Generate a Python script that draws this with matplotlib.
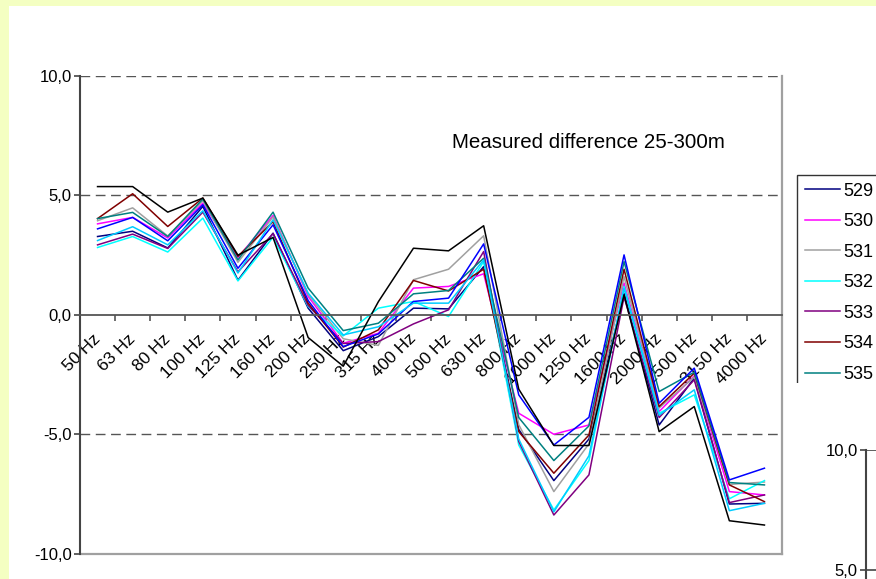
import matplotlib
matplotlib.use("Agg")
import matplotlib.pyplot as plt
import matplotlib.transforms as mtransforms
from matplotlib.patches import Rectangle

plt.rcParams['font.family'] = ['Liberation Sans', 'DejaVu Sans']

# third-octave bands
bands = ["50 Hz", "63 Hz", "80 Hz", "100 Hz", "125 Hz", "160 Hz", "200 Hz", "250 Hz",
         "315 Hz", "400 Hz", "500 Hz", "630 Hz", "800 Hz", "1000 Hz", "1250 Hz",
         "1600 Hz", "2000 Hz", "2500 Hz", "3150 Hz", "4000 Hz"]

s529 = [3.28, 3.50, 2.80, 4.54, 1.45, 3.42, 0.28, -1.50, -0.91, 0.28, 0.25, 2.02,
        -4.80, -6.94, -5.20, 0.90, -4.61, -2.65, -7.92, -7.89]
s530 = [3.81, 4.08, 3.22, 4.68, 2.40, 4.16, 0.77, -1.19, -0.77, 1.12, 1.19, 1.72,
        -4.12, -5.00, -4.61, 1.33, -4.05, -2.55, -7.40, -7.54]
s531 = [3.94, 4.48, 3.30, 4.78, 2.20, 4.10, 0.85, -1.00, -1.28, 1.47, 1.91, 3.31,
        -4.60, -7.40, -5.40, 1.60, -3.90, -2.60, -7.10, -7.00]
s532 = [2.82, 3.28, 2.63, 4.05, 1.42, 3.25, 0.35, -0.88, 0.28, 0.56, -0.07, 2.23,
        -5.45, -8.17, -6.10, 1.19, -4.12, -3.35, -7.70, -6.94]
s533 = [2.93, 3.38, 2.78, 4.30, 1.80, 3.40, 0.40, -1.20, -1.12, -0.38, 0.21, 2.65,
        -5.30, -8.38, -6.70, 0.75, -4.30, -2.72, -7.86, -7.54]
s534 = [4.03, 5.07, 3.70, 4.89, 2.45, 3.90, 0.49, -1.35, -0.63, 1.44, 1.00, 1.91,
        -4.89, -6.63, -5.03, 1.91, -3.84, -2.44, -7.12, -7.82]
s535 = [4.03, 4.29, 3.28, 4.85, 2.30, 4.30, 1.12, -0.66, -0.35, 0.88, 1.02, 2.37,
        -4.30, -6.10, -4.65, 2.23, -3.21, -2.40, -7.02, -7.12]
s536 = [3.60, 4.08, 3.10, 4.61, 1.95, 3.77, 0.60, -1.33, -0.80, 0.56, 0.70, 2.97,
        -3.35, -5.45, -4.29, 2.51, -3.70, -2.23, -6.91, -6.42]
s537 = [3.11, 3.69, 2.93, 4.36, 1.75, 3.98, 0.91, -0.84, -0.50, 0.49, 0.49, 2.30,
        -5.20, -8.25, -5.90, 1.10, -4.20, -3.14, -8.20, -7.89]
s538 = [5.37, 5.37, 4.30, 4.89, 2.50, 3.24, -0.95, -2.15, 0.55, 2.79, 2.68, 3.73,
        -3.11, -5.47, -5.47, 0.84, -4.89, -3.84, -8.62, -8.80]

names = ["529", "530", "531", "532", "533", "534", "535", "536", "537", "538"]
series = [s529, s530, s531, s532, s533, s534, s535, s536, s537, s538]
colors = ["#000080", "#FF00FF", "#A0A0A0", "#00FFFF", "#800080", "#800000",
          "#008080", "#0000FF", "#00CCFF", "#000000"]

yticks = [-10, -5, 0, 5, 10]
ytick_labels = ["-10,0", "-5,0", "0,0", "5,0", "10,0"]

W, H = 876, 579
fig = plt.figure(figsize=(W / 100, H / 100), dpi=100)
fig.patch.set_facecolor("#F4FFC2")
# white chart area
fig.add_artist(Rectangle((9 / W, 0), 1, 1 - 6 / H, transform=fig.transFigure,
                         facecolor="white", edgecolor="none", zorder=-1))


def px(x0, y0, x1, y1):
    return [x0 / W, 1 - y1 / H, (x1 - x0) / W, (y1 - y0) / H]


ax = fig.add_axes(px(80, 76, 782, 553.7))
x = list(range(len(bands)))
handles = []
for name, vals, c in zip(names, series, colors):
    ln, = ax.plot(x, vals, color=c, lw=1.1, label=name)
    handles.append(ln)

ax.set_xlim(-0.5, len(bands) - 0.5)
ax.set_ylim(-10, 10)

# axes look
ax.spines['top'].set_visible(False)
ax.spines['bottom'].set_position(('data', 0))
ax.spines['bottom'].set_color("#555555")
ax.spines['bottom'].set_linewidth(1.3)
ax.spines['left'].set_color("#444444")
ax.spines['left'].set_linewidth(1.5)
ax.spines['right'].set_color("#A0A0A0")
ax.spines['right'].set_linewidth(1.6)
ax.axhline(-10, color="#A0A0A0", lw=1.6, clip_on=False)
for g in [10, 5, -5]:
    ax.axhline(g, color="#555555", lw=1, dashes=(7, 4), zorder=0)

ax.set_yticks(yticks)
ax.set_yticklabels(ytick_labels, fontsize=12)
ax.tick_params(axis='y', direction='out', length=4, width=1.2, color="#444444", pad=2)

ax.set_xticks(x)
ax.set_xticklabels(bands, fontsize=12.5, rotation=45, ha='right', va='center',
                   rotation_mode='anchor')
shift = mtransforms.ScaledTranslation(-4 / 100, 0, fig.dpi_scale_trans)
for lab in ax.get_xticklabels():
    lab.set_transform(lab.get_transform() + shift)
ax.set_xticks([i - 0.5 for i in range(len(bands) + 1)], minor=True)
ax.tick_params(axis='x', which='major', length=0, pad=15.5)
ax.tick_params(axis='x', which='minor', direction='out', length=4, width=1.2,
               color="#555555")

fig.text(452 / W, 1 - 143 / H, "Measured difference 25-300m", fontsize=14.8,
         ha='left', va='center')

# only the first seven legend rows are visible, the rest sits under the next chart
leg = ax.legend(handles=handles[:7], loc='upper left',
                bbox_to_anchor=(797 / W, 1 - 175 / H),
                bbox_transform=fig.transFigure, fontsize=13, frameon=True,
                fancybox=False, handlelength=1.94, handletextpad=0.2,
                borderpad=0.42, labelspacing=0.75, borderaxespad=0)
leg.get_frame().set_edgecolor("black")
leg.get_frame().set_linewidth(1)

# part of the neighbouring chart covers the lower legend
fig.add_artist(Rectangle((790 / W, 0), 1, 1 - 383 / H, transform=fig.transFigure,
                         facecolor="white", edgecolor="none", zorder=1))
ax2 = fig.add_axes(px(866, 450, 960, 930))
ax2.set_zorder(2)
ax2.set_ylim(-10, 10)
ax2.set_xticks([])
ax2.set_yticks([10, 5])
ax2.set_yticklabels(["10,0", "5,0"], fontsize=12)
ax2.tick_params(axis='y', direction='out', length=4, width=1.2, color="#444444", pad=2)
ax2.grid(axis='y', color="#444444", lw=1.2)
for side in ['right', 'bottom', 'top']:
    ax2.spines[side].set_visible(False)
ax2.spines['left'].set_color("#444444")
ax2.spines['left'].set_linewidth(1.5)

fig.savefig("out.png", dpi=100, facecolor=fig.get_facecolor())
